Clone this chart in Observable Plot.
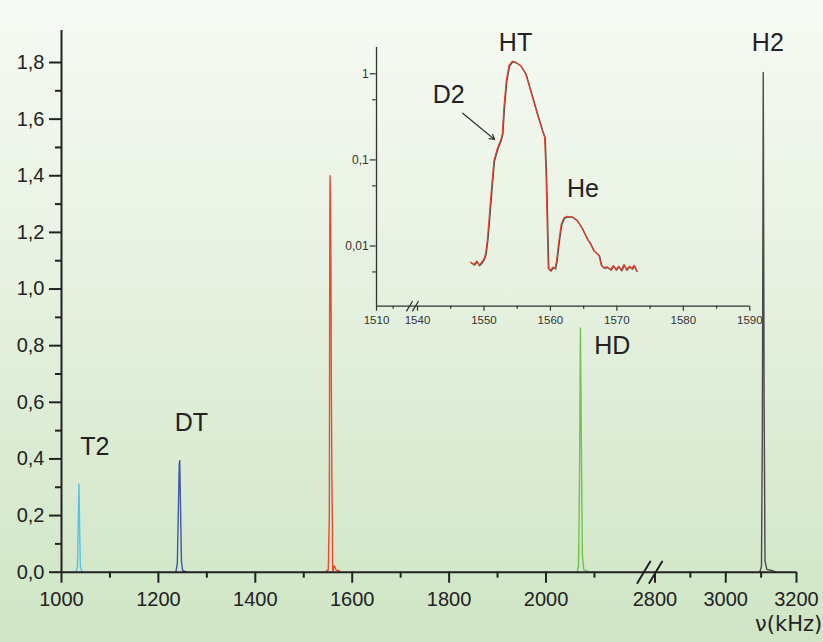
<!DOCTYPE html>
<html>
<head>
<meta charset="utf-8">
<script src="https://cdn.jsdelivr.net/npm/d3@7"></script>
<script src="https://cdn.jsdelivr.net/npm/@observablehq/plot@0.6"></script>
<style>
  html, body { margin: 0; padding: 0; }
  #wrap { position: relative; width: 823px; height: 642px;
    background: linear-gradient(to bottom, #f7faf4 0%, #e6f1e0 45%, #cfe5c5 100%); overflow: hidden; }
  #wrap svg { position: absolute; left: 0; top: 0; }
</style>
</head>
<body>
<div id="wrap"></div>
<script>
// ---------- data ----------
const T2_FREQ = [1030, 1033, 1034.5, 1036, 1037.5, 1039, 1042, 1048];
const T2_INT  = [0, 0.02, 0.16, 0.312, 0.15, 0.02, 0.003, 0];
const DT_FREQ = [1236, 1239, 1241, 1243, 1244, 1245.5, 1247.5, 1250, 1258];
const DT_INT  = [0, 0.03, 0.2, 0.38, 0.394, 0.25, 0.04, 0.006, 0];
const HD_FREQ = [2064, 2067, 2069, 2071, 2073, 2075, 2078, 2090];
const HD_INT  = [0, 0.02, 0.3, 0.863, 0.45, 0.06, 0.008, 0];
const H2_FREQ = [3096, 3101, 3103.5, 3106, 3108.5, 3111, 3116, 3130, 3142];
const H2_INT  = [0, 0.02, 0.5, 1.765, 0.6, 0.04, 0.01, 0.006, 0];

// HT region (shown in inset on log scale, and in main chart linearly)
const HT_FREQ = [1548.0, 1548.5, 1548.9, 1549.25, 1549.6, 1550.0, 1550.25, 1550.5, 1550.75, 1551.15,
  1551.5, 1552.0, 1552.5, 1552.76, 1553.0, 1553.36, 1553.76, 1554.26, 1554.76, 1555.5,
  1556.27, 1557.0, 1558.0, 1558.77, 1559.12, 1559.32, 1559.52, 1559.67, 1560.0, 1560.38,
  1560.7, 1560.93, 1561.28, 1561.63, 1562.03, 1562.53, 1563.28, 1564.0, 1564.8, 1565.5,
  1566.0, 1566.5, 1567.3, 1567.64, 1568.04, 1568.55, 1569.05, 1569.45, 1569.85, 1570.25,
  1570.65, 1571.05, 1571.45, 1571.85, 1572.26, 1572.56, 1572.96];
const HT_INT = [0.0065, 0.0061, 0.0067, 0.0060, 0.0064, 0.0071, 0.0082, 0.0117, 0.0199, 0.0484,
  0.0988, 0.135, 0.169, 0.201, 0.41, 0.837, 1.25, 1.40, 1.365, 1.25,
  1.0, 0.64, 0.344, 0.22, 0.184, 0.0756, 0.0166, 0.0055, 0.0052, 0.0057,
  0.0055, 0.0068, 0.0117, 0.018, 0.0213, 0.0221, 0.0218, 0.0199, 0.0159, 0.0122,
  0.0107, 0.0089, 0.0078, 0.0060, 0.0056, 0.00572, 0.00532, 0.00593, 0.00532, 0.00582,
  0.00523, 0.00608, 0.00532, 0.00582, 0.00547, 0.00597, 0.00514];

// main axis ticks
const MAIN_X_TICKS = [1000, 1200, 1400, 1600, 1800, 2000, 2800, 3000, 3200];
const MAIN_X_MINOR = [1100, 1300, 1500, 1700, 1900, 2100, 2900, 3100];
const MAIN_Y_TICKS = [0, 0.2, 0.4, 0.6, 0.8, 1.0, 1.2, 1.4, 1.6, 1.8];
const MAIN_Y_MINOR = [0.1, 0.3, 0.5, 0.7, 0.9, 1.1, 1.3, 1.5, 1.7];
const MAIN_BREAKS = [2333, 2802];

// main labels
const MAIN_LABELS = ["T2", "DT", "HD", "H2"];
const MAIN_LABEL_X = [1068.7, 1268, 2136.6, 3119];
const MAIN_LABEL_Y = [0.441, 0.527, 0.80, 1.870];
const X_TITLE = "ν(kHz)";

// inset ticks
const INSET_X_TICKS = [1510, 1540, 1550, 1560, 1570, 1580, 1590];
const INSET_X_MINOR = [1520, 1545, 1555, 1565, 1575, 1585];
const INSET_Y_TICKS = [0.01, 0.1, 1];
const INSET_Y_MINOR = [0.005, 0.05, 0.5];
const INSET_BREAKS = [1532.5, 1538.1];

// inset labels
const INSET_LABELS = ["HT", "D2", "He"];
const INSET_LABEL_X = [1554.75, 1544.7, 1564.9];
const INSET_LABEL_Y = [2.26, 0.56, 0.0456];
const D2_ARROW = [{x1: 1546.8, y1: 0.3486, x2: 1551.6, y2: 0.1726}];

// ---------- helpers ----------
const FONT = "Liberation Sans, Arial, Helvetica, sans-serif";
const INK = "#222";
const pts = (fx, fy) => fx.map((f, i) => ({f, v: fy[i]}));
const slash = {draw(ctx, l) { ctx.moveTo(0, l / 2); ctx.lineTo(0, -l / 2); }};
const comma = d => String(d).replace(".", ",");

const mainHT = pts([1546].concat(HT_FREQ, [1575]), [0].concat(HT_INT, [0]));

const peaks = [
  {data: pts(T2_FREQ, T2_INT), color: "#55c3e4"},
  {data: pts(DT_FREQ, DT_INT), color: "#3f57a6"},
  {data: mainHT, color: "#ec4a2d"},
  {data: pts(HD_FREQ, HD_INT), color: "#74c14f"},
  {data: pts(H2_FREQ, H2_INT), color: "#4a4a4a"}
];

// ---------- main chart ----------
const main = Plot.plot({
  width: 823, height: 642,
  marginLeft: 61, marginRight: 27, marginTop: 30, marginBottom: 70.3,
  style: {background: "transparent", fontFamily: FONT, fontSize: "20px", color: INK, overflow: "visible"},
  x: {type: "linear", domain: [1000, 2195, 2800, 3200], range: [61, 640, 654.5, 796], label: null},
  y: {domain: [0, 1.913], label: null},
  marks: [
    ...peaks.map(p => Plot.line(p.data, {x: "f", y: "v", stroke: p.color, strokeWidth: 1.4})),
    Plot.ruleY([0], {x1: 1000, x2: 3200, stroke: INK, strokeWidth: 2}),
    Plot.ruleX([1000], {y1: 0, y2: 1.913, stroke: INK, strokeWidth: 2}),
    Plot.axisX(MAIN_X_TICKS, {label: null, tickSize: 11, tickPadding: 9, fontSize: 20, strokeWidth: 2, tickFormat: d => `${d}`}),
    Plot.axisX(MAIN_X_MINOR, {label: null, tickSize: 6, strokeWidth: 2, tickFormat: () => ""}),
    Plot.axisY(MAIN_Y_TICKS, {label: null, tickSize: 12, tickPadding: 5, fontSize: 20, strokeWidth: 2, tickFormat: d => d.toFixed(1).replace(".", ",")}),
    Plot.axisY(MAIN_Y_MINOR, {label: null, tickSize: 6, strokeWidth: 2, tickFormat: () => ""}),
    Plot.vector(MAIN_BREAKS, {x: d => d, y: 0, length: 25, rotate: 31, anchor: "start", shape: slash, stroke: INK, strokeWidth: 2}),
    Plot.text(MAIN_LABELS, {x: (d, i) => MAIN_LABEL_X[i], y: (d, i) => MAIN_LABEL_Y[i], text: d => d, fontSize: 25, fill: INK}),
    Plot.text([X_TITLE], {frameAnchor: "bottom-right", dx: 25.7, dy: 58.9, textAnchor: "end", fontSize: 21, fontFamily: "DejaVu Sans, sans-serif", fill: INK})
  ]
});

// ---------- inset ----------
const htPts = pts(HT_FREQ, HT_INT);
const inset = Plot.plot({
  width: 823, height: 642,
  marginLeft: 375.7, marginRight: 73.7, marginTop: 47, marginBottom: 336.3,
  style: {background: "transparent", fontFamily: FONT, fontSize: "12px", color: "#333", overflow: "visible", pointerEvents: "none"},
  x: {type: "linear", domain: [1510, 1525, 1540, 1590], range: [376, 401, 417, 749.3], label: null},
  y: {type: "log", domain: [0.002, 2.02], label: null},
  marks: [
    Plot.ruleX([1510], {y1: 0.002, y2: 2.02, stroke: "#333", strokeWidth: 1.3}),
    Plot.ruleY([0.002], {x1: 1510, x2: 1590, stroke: "#333", strokeWidth: 1.3}),
    Plot.axisY(INSET_Y_TICKS, {label: null, tickSize: 6, tickPadding: 1.5, fontSize: 12, strokeWidth: 1.2, tickFormat: comma}),
    Plot.axisY(INSET_Y_MINOR, {label: null, tickSize: 3.5, strokeWidth: 1.2, tickFormat: () => ""}),
    Plot.axisX(INSET_X_TICKS, {label: null, tickSize: 5, tickPadding: 4.5, fontSize: 11.5, strokeWidth: 1.2, tickFormat: d => `${d}`}),
    Plot.axisX(INSET_X_MINOR, {label: null, tickSize: 3, strokeWidth: 1.2, tickFormat: () => ""}),
    Plot.vector(INSET_BREAKS, {x: d => d, y: 0.002, length: 11, rotate: 31, anchor: "start", shape: slash, stroke: "#333", strokeWidth: 1.3}),
    Plot.line(htPts, {x: "f", y: "v", stroke: "#4a4a4a", strokeWidth: 1.3, dx: 0.6, dy: 0.6}),
    Plot.line(htPts, {x: "f", y: "v", stroke: "#e8402a", strokeWidth: 1.2}),
    Plot.arrow(D2_ARROW, {x1: "x1", y1: "y1", x2: "x2", y2: "y2", stroke: "#333", strokeWidth: 1.2, headLength: 7, inset: 0}),
    Plot.text(INSET_LABELS, {x: (d, i) => INSET_LABEL_X[i], y: (d, i) => INSET_LABEL_Y[i], text: d => d, fontSize: 25, fill: INK})
  ]
});

const wrap = document.getElementById("wrap");
wrap.appendChild(main);
wrap.appendChild(inset);
</script>
</body>
</html>
